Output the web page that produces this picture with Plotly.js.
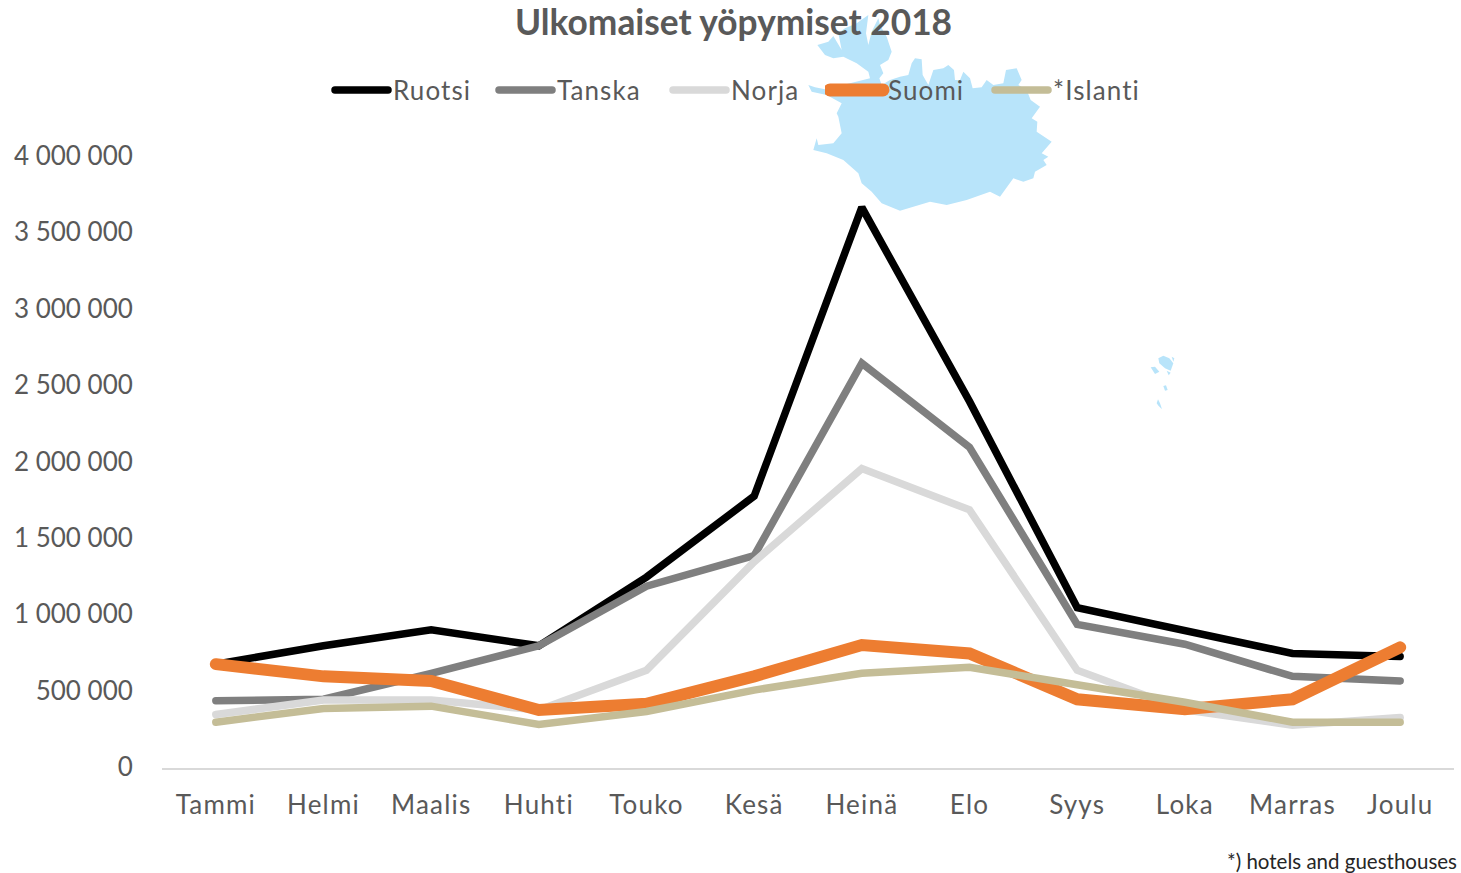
<!DOCTYPE html>
<html><head><meta charset="utf-8">
<script src="https://cdn.plot.ly/plotly-3.0.1.min.js"></script>
<style>html,body{margin:0;padding:0;background:#fff}
#c{width:1461px;height:873px}
.js-line{stroke-linecap:round}
.xtick text{letter-spacing:1.2px}
.legendtext,.legend2text,.legend3text,.legend4text,.legend5text{letter-spacing:1.1px}
.legend4 .js-line{stroke-width:13px !important}
</style></head><body><div id="c"></div>
<script>
const months=["Tammi","Helmi","Maalis","Huhti","Touko","Kesä","Heinä","Elo","Syys","Loka","Marras","Joulu"];
const ruotsi=[680000,800000,905000,800000,1250000,1780000,3670000,2400000,1050000,900000,750000,730000];
const tanska=[440000,450000,620000,800000,1190000,1390000,2650000,2100000,940000,810000,600000,570000];
const norja=[350000,445000,445000,380000,640000,1350000,1960000,1690000,640000,380000,280000,330000];
const suomi=[680000,600000,570000,380000,420000,600000,805000,750000,450000,385000,450000,790000];
const islanti=[300000,390000,405000,285000,370000,510000,620000,660000,545000,430000,300000,300000];
const yTickVals=[0,500000,1000000,1500000,2000000,2500000,3000000,3500000,4000000];
const yTickText=["0","500 000","1 000 000","1 500 000","2 000 000","2 500 000","3 000 000","3 500 000","4 000 000"];
const W=1461,H=873,L=162,R=7,T=157,B=105;
const FONT="Lato, Carlito, sans-serif",GREY="#595959";
function tr(name,y,color,width,legend){return{type:"scatter",mode:"lines",name,legend,x:months,y,line:{color,width,shape:"linear"},cliponaxis:false,hoverinfo:"x+y+name"};}
function lg(px){return{orientation:"h",x:px/W,xanchor:"left",y:1-90/H,yanchor:"middle",yref:"container",xref:"container",itemwidth:53,font:{family:FONT,size:26,color:GREY},bgcolor:"rgba(0,0,0,0)",itemclick:false,itemdoubleclick:false};}
const mainland=[[52,135],[75,128],[85,125],[100,108],[125,150],[115,100],[135,85],[170,70],[205,45],[198,100],[205,135],[215,95],[235,55],[240,75],[260,110],[275,155],[265,180],[240,195],[250,220],[238,235],[245,255],[270,240],[300,230],[325,225],[335,190],[345,175],[365,178],[368,225],[385,255],[400,210],[430,205],[445,195],[462,210],[465,240],[480,240],[490,215],[510,235],[518,265],[545,262],[560,240],[580,255],[610,250],[618,210],[650,205],[665,240],[655,255],[680,270],[692,300],[720,320],[695,355],[712,365],[710,395],[755,425],[725,460],[745,470],[730,480],[740,495],[705,515],[700,535],[670,545],[640,535],[600,590],[570,575],[500,600],[440,615],[390,605],[300,632],[245,610],[215,575],[185,550],[175,520],[130,480],[80,460],[40,450],[50,415],[55,435],[100,430],[125,400],[115,350],[110,340],[125,310],[80,285],[35,275],[25,255],[45,262],[75,268],[150,250],[210,235],[205,215],[170,190],[130,170],[100,175],[75,165]];
const islets=[[[85,55],[100,47],[118,55],[130,70],[122,92],[105,85],[88,70]],[[62,82],[75,80],[88,95],[75,102]],[[110,92],[122,98],[116,106]],[[100,138],[108,136],[113,150],[105,152]],[[84,178],[90,190],[96,208],[86,198],[80,190]],[[125,50],[133,55],[130,65]]];
function pth(pts,ox,oy){return "M"+pts.map(p=>((ox+p[0]/3-L)/(W-L-R)).toFixed(5)+","+((H-B-(oy+p[1]/3))/(H-T-B)).toFixed(5)).join("L")+"Z";}
const MAP="rgb(184,228,250)";
const shapes=[{type:"path",xref:"paper",yref:"paper",layer:"below",path:pth(mainland,800,0),fillcolor:MAP,line:{width:0}}]
 .concat(islets.map(s=>({type:"path",xref:"paper",yref:"paper",layer:"below",path:pth(s,1130,340),fillcolor:MAP,line:{width:0}})));
const data=[tr("Ruotsi",ruotsi,"#000000",7.5,"legend"),tr("Tanska",tanska,"#7f7f7f",7.5,"legend2"),tr("Norja",norja,"#d9d9d9",7.5,"legend3"),tr("Suomi",suomi,"#ed7d31",12,"legend4"),tr("*Islanti",islanti,"#c4bd97",7.5,"legend5")];
const layout={width:W,height:H,margin:{l:L,r:R,t:T,b:B,pad:0},paper_bgcolor:"#fff",plot_bgcolor:"rgba(0,0,0,0)",
 showlegend:true,
 title:{text:"<b>Ulkomaiset yöpymiset 2018</b>",font:{family:FONT,size:35.3,color:GREY},x:733.5/W,xanchor:"center",y:1-23/H,yanchor:"middle"},
 legend:lg(330),legend2:lg(494),legend3:lg(668),legend4:lg(825),legend5:lg(990),
 xaxis:{type:"category",range:[-0.5,11.5],tickvals:months,ticktext:months,showgrid:false,zeroline:false,showline:true,linecolor:"#d9d9d9",linewidth:2,ticks:"outside",ticklen:13,tickcolor:"rgba(0,0,0,0)",tickfont:{family:FONT,size:26,color:GREY}},
 yaxis:{range:[0,4000000],tickvals:yTickVals,ticktext:yTickText,showgrid:false,zeroline:false,showline:false,ticks:"outside",ticklen:23,tickcolor:"rgba(0,0,0,0)",ticklabelshift:-1,tickfont:{family:FONT,size:26,color:GREY}},
 shapes,
 annotations:[{text:"*) hotels and guesthouses",xref:"paper",yref:"paper",x:(1458.5-L)/(W-L-R),y:(H-B-861)/(H-T-B),xanchor:"right",yanchor:"middle",showarrow:false,font:{family:FONT,size:20.5,color:"#262626"}}]
};
Plotly.newPlot("c",data,layout,{displayModeBar:false});
</script></body></html>
